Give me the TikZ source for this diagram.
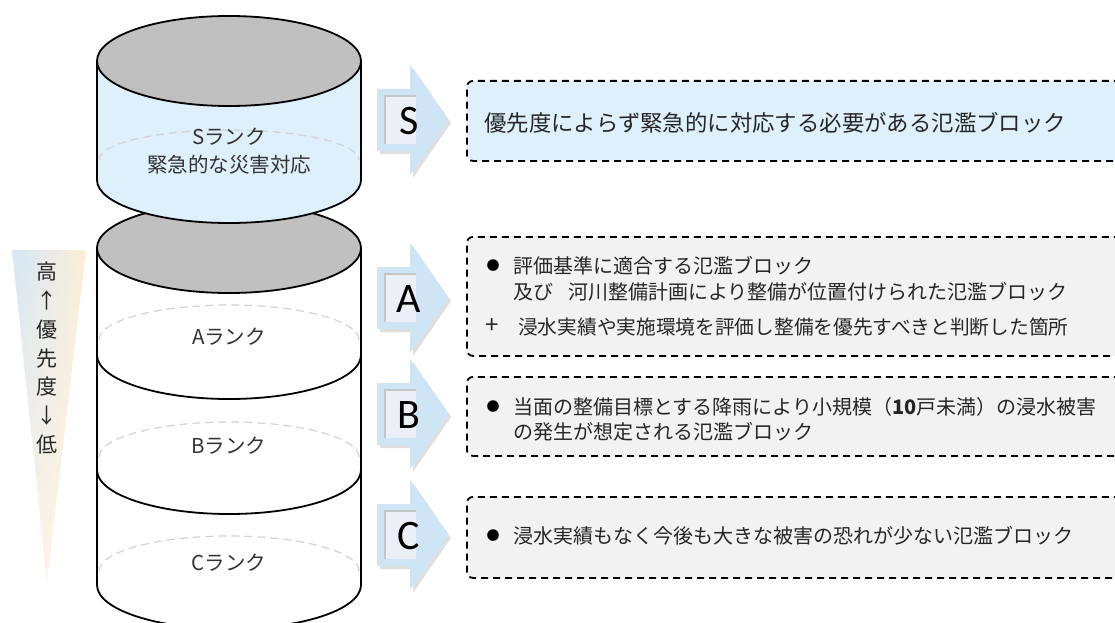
\documentclass[tikz,border=0pt]{standalone}
\usepackage{fontspec}
\newfontfamily\jp{Noto Sans CJK JP}
\newfontfamily\calfont{Carlito}
\usetikzlibrary{shadows,shadings}
\definecolor{sblue}{RGB}{221,240,251}
\definecolor{topgray}{RGB}{192,192,192}
\definecolor{boxgray}{RGB}{242,242,242}
\definecolor{arrowblue}{RGB}{206,229,245}
\definecolor{innerblue}{RGB}{234,240,245}
\definecolor{txtgray}{RGB}{51,51,51}
\definecolor{prioblue}{RGB}{212,231,247}
\definecolor{priocream}{RGB}{253,238,214}
\tikzset{
  cylline/.style={line width=1.8pt, draw=black},
  dashell/.style={draw=gray!35, line width=1.2pt, dash pattern=on 8pt off 5pt},
  dbox/.style={draw=black, line width=1.8pt, dash pattern=on 7pt off 5pt, rounded corners=6pt, inner sep=0pt},
  boxtext/.style={font=\jp\fontsize{20}{24}\selectfont, text=black!85, anchor=west, inner sep=0pt},
  bullettext/.style={font=\jp\fontsize{13}{16}\selectfont, text=black, inner sep=0pt},
  cyltext/.style={font=\jp\fontsize{20.5}{28}\selectfont, text=txtgray, inner sep=0pt, align=center},
  letter/.style={font=\calfont\fontsize{42}{42}\selectfont, text=black, inner sep=0pt},
  arrowshape/.style={fill=arrowblue, drop shadow={shadow xshift=3pt, shadow yshift=-3pt, opacity=0.25}}
}
\newcommand\rankarrow[3]{%
  \fill[arrowshape] (377,#1-31) -- (410,#1-31) -- (410,#1-55) -- (448,#1) -- (410,#1+55) -- (410,#1+31) -- (377,#1+31) -- cycle;
  \fill[innerblue] (385,#1-24) rectangle (416,#1+24);
  \draw[gray!45, line width=2pt] (385,#1+24) -- (385,#1-24) -- (416,#1-24);
  \node[letter] (#2) at (409,#1+1) {#3};
}
\begin{document}
\begin{tikzpicture}[x=1pt,y=-1pt]
\useasboundingbox (0,0) rectangle (1115,623);
\fill[white] (0,0) rectangle (1115,623);

% priority wedge
\shade[upper left=prioblue, upper right=priocream, lower left=priocream!70!white, lower right=priocream!60!white]
  (12,250) -- (86,250) -- (47,582) -- cycle;
\node[font=\jp\fontsize{21}{28.7}\selectfont, align=center, inner sep=0pt, text=black!85] (prio) at (47,358)
  {高\\↑\\優\\先\\度\\↓\\低};

% lower cylinder (A, B, C)
\draw[cylline, fill=white] (97,248) -- (97,585) arc[start angle=180, end angle=0, x radius=132, y radius=44] -- (361,248) -- cycle;
\draw[cylline, fill=topgray] (229,248) ellipse[x radius=132, y radius=45];
\draw[cylline] (97,355) arc[start angle=180, end angle=0, x radius=132, y radius=44];
\draw[cylline] (97,470) arc[start angle=180, end angle=0, x radius=132, y radius=44];
\draw[dashell] (99,340) arc[start angle=180, end angle=360, x radius=130, y radius=35];
\draw[dashell] (99,457) arc[start angle=180, end angle=360, x radius=130, y radius=35];
\draw[dashell] (99,571) arc[start angle=180, end angle=360, x radius=130, y radius=35];
\node[cyltext] (alab) at (229,337) {Aランク};
\node[cyltext] (blab) at (229,446) {Bランク};
\node[cyltext] (clab) at (229,563) {Cランク};

% S cylinder
\draw[cylline, fill=sblue] (97,61) -- (97,180) arc[start angle=180, end angle=0, x radius=132, y radius=43] -- (361,61) -- cycle;
\draw[cylline, fill=topgray] (229,61) ellipse[x radius=132, y radius=45];
\draw[dashell] (99,160) arc[start angle=180, end angle=360, x radius=130, y radius=30];
\node[cyltext] (slab) at (229,151) {Sランク\\緊急的な災害対応};

% arrows
\rankarrow{120}{sarr}{S}
\rankarrow{298}{aarr}{A}
\rankarrow{414}{barr}{B}
\rankarrow{535}{carr}{C}

% boxes
\node[dbox, fill=sblue, minimum width=660pt, minimum height=80pt, anchor=north west] (sbox) at (466,80) {};
\node[dbox, fill=boxgray, minimum width=660pt, minimum height=119pt, anchor=north west] (abox) at (466,236) {};
\node[dbox, fill=boxgray, minimum width=660pt, minimum height=79pt, anchor=north west] (bbox) at (466,376) {};
\node[dbox, fill=boxgray, minimum width=660pt, minimum height=81pt, anchor=north west] (cbox) at (466,496) {};

% box texts
\node[boxtext, font=\jp\fontsize{22.4}{26}\selectfont] (st) at (484,123) {優先度によらず緊急的に対応する必要がある氾濫ブロック};

\node[bullettext] (ab1) at (493,266) {●};
\node[boxtext] (at1) at (513,266) {評価基準に適合する氾濫ブロック};
\node[boxtext] (at2) at (513,292) {及び\hspace{15pt}河川整備計画により整備が位置付けられた氾濫ブロック};
\node[font=\jp\fontsize{24}{26}\selectfont, inner sep=0pt, text=black!85] (ap) at (492,326) {+};
\node[boxtext, font=\jp\fontsize{19.7}{24}\selectfont] (at3) at (518,327) {浸水実績や実施環境を評価し整備を優先すべきと判断した箇所};

\node[bullettext] (bb1) at (493,407) {●};
\node[boxtext] (bt1) at (513,407) {当面の整備目標とする降雨により小規模（\textbf{10}戸未満）の浸水被害};
\node[boxtext] (bt2) at (513,432) {の発生が想定される氾濫ブロック};

\node[bullettext] (cb1) at (493,536) {●};
\node[boxtext] (ct1) at (513,536) {浸水実績もなく今後も大きな被害の恐れが少ない氾濫ブロック};
\end{tikzpicture}
\end{document}
